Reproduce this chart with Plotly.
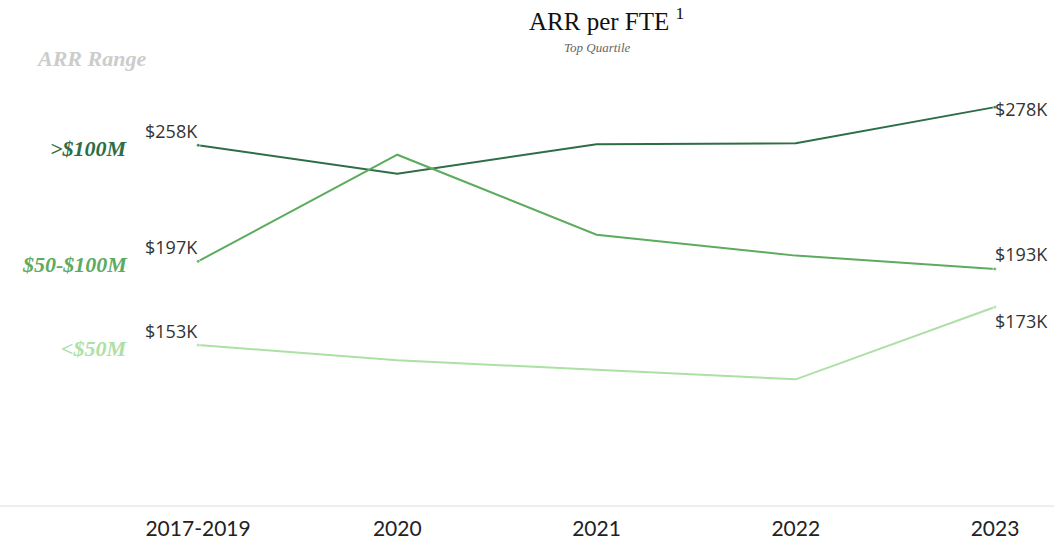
import plotly.graph_objects as go

periods = ["2017-2019", "2020", "2021", "2022", "2023"]
over_100m = [258, 243, 258.5, 259, 278]
mid_50_100m = [197, 253, 211, 200, 193]
under_50m = [153, 145, 140, 135, 173]

series = [
    (">$100M", over_100m, "#2e6e46"),
    ("$50-$100M", mid_50_100m, "#5dab5f"),
    ("<$50M", under_50m, "#ade0a5"),
]

xs = list(range(len(periods)))
fig = go.Figure()

for name, vals, col in series:
    fig.add_trace(go.Scatter(
        x=xs, y=vals, mode="lines+markers", name=name,
        line=dict(color=col, width=2),
        marker=dict(size=[4, 0, 0, 0, 4], color=col),
        hoverinfo="skip", showlegend=False,
    ))
    # range label on the left
    fig.add_annotation(x=-0.34, y=vals[0], text="<i><b>%s</b></i>" % name.replace("<", "&lt;").replace(">", "&gt;"),
                       xanchor="right", yanchor="middle", showarrow=False, yshift=-3,
                       font=dict(family="Liberation Serif", size=22, color=col))

lbl_font = dict(family="Open Sans", size=18, color="#333333")
fmt = lambda v: "$%dK" % round(v)

# start labels
for _, vals, _ in series:
    fig.add_annotation(x=0, y=vals[0], text=fmt(vals[0]), xanchor="right", yanchor="bottom",
                       showarrow=False, xshift=2, yshift=0, font=lbl_font)

# end labels
fig.add_annotation(x=4, y=over_100m[-1], text=fmt(over_100m[-1]), xanchor="left", yanchor="middle",
                   showarrow=False, xshift=-2, yshift=-2, font=lbl_font)
fig.add_annotation(x=4, y=mid_50_100m[-1], text=fmt(mid_50_100m[-1]), xanchor="left", yanchor="bottom",
                   showarrow=False, xshift=-2, yshift=1, font=lbl_font)
fig.add_annotation(x=4, y=under_50m[-1], text=fmt(under_50m[-1]), xanchor="left", yanchor="top",
                   showarrow=False, xshift=-2, yshift=0, font=lbl_font)

fig.add_annotation(text="<i><b>ARR Range</b></i>", x=0.032, y=1.075, xref="paper", yref="paper",
                   xanchor="left", yanchor="middle", showarrow=False,
                   font=dict(family="Liberation Serif", size=22, color="#cccccc"))

fig.add_annotation(text="ARR per FTE <sup>1</sup>", x=0.575, y=1.17, xref="paper", yref="paper",
                   xanchor="center", yanchor="middle", showarrow=False,
                   font=dict(family="Liberation Serif", size=25, color="#111111"))
fig.add_annotation(text="<i>Top Quartile</i>", x=0.567, y=1.102, xref="paper", yref="paper",
                   xanchor="center", yanchor="middle", showarrow=False,
                   font=dict(family="Liberation Serif", size=13, color="#666666"))

fig.update_layout(
    width=1054, height=540,
    margin=dict(l=0, r=0, t=90, b=35),
    paper_bgcolor="white", plot_bgcolor="white",
    xaxis=dict(range=[-0.994, 4.296], tickvals=xs, ticktext=periods, showgrid=False,
               zeroline=False, showline=True, linecolor="#eeeeee", linewidth=2, automargin=False,
               tickfont=dict(family="Lato", size=21, color="#222222"), ticks="",
               ticklabelstandoff=4, fixedrange=True),
    yaxis=dict(range=[69, 287], visible=False, showgrid=False, zeroline=False, automargin=False),
)

fig.write_html("out.html", config={"displayModeBar": False},
               post_script="document.body.style.margin='0';document.body.style.overflow='hidden';")
